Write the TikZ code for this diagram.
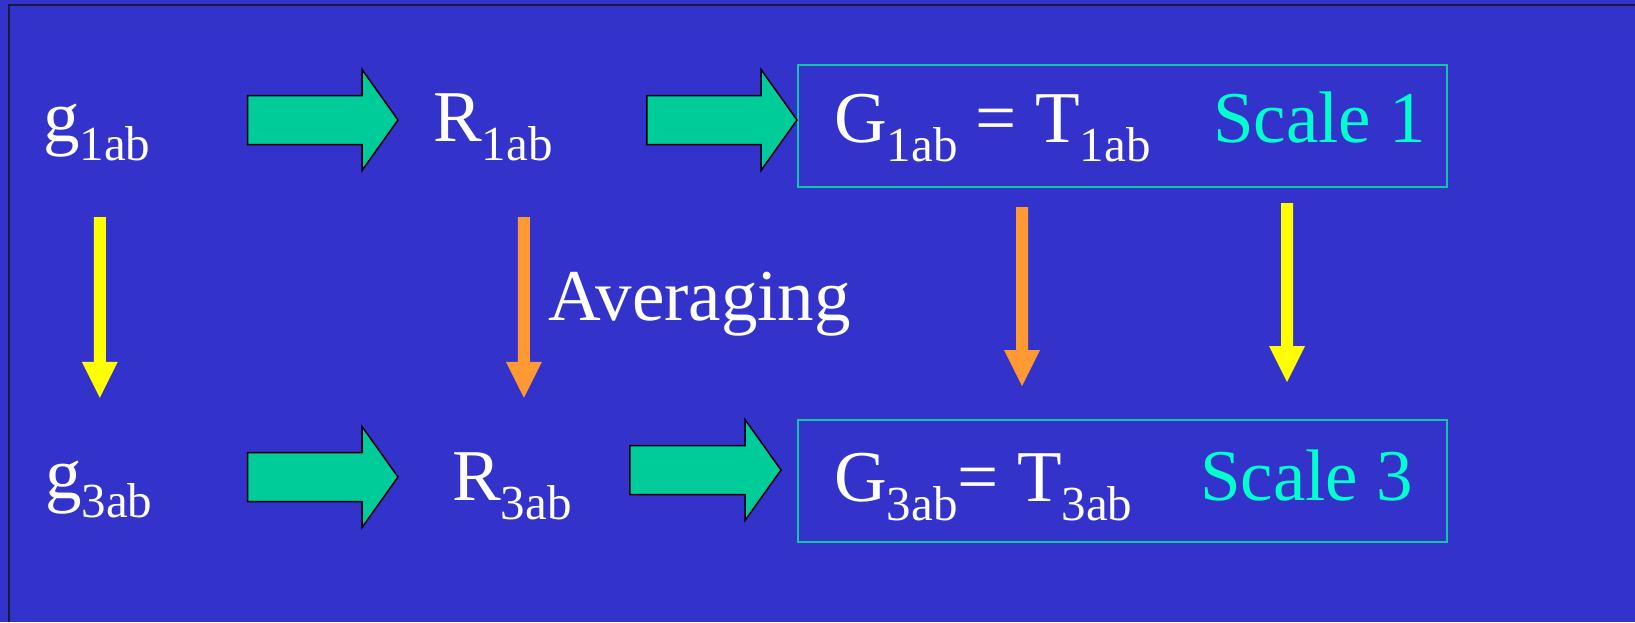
\documentclass[tikz,border=0pt]{standalone}
\usepackage{fontspec}
\setmainfont{Liberation Serif}
\newfontfamily\slidefont{Liberation Serif}
\usepackage{tikz}
\usetikzlibrary{arrows.meta, positioning, calc}
\definecolor{slblue}{HTML}{3333CC}
\definecolor{slframe}{HTML}{1A1A3A}
\definecolor{slgreen}{HTML}{00CC99}
\definecolor{slteal}{HTML}{10C8A8}
\definecolor{slcyan}{HTML}{00FFCC}
\definecolor{slorange}{HTML}{FF9933}
\definecolor{slyellow}{HTML}{FFFF00}
\newcommand{\bigfont}{\slidefont\fontsize{73}{80}\selectfont}
\newcommand{\subfont}{\fontsize{49}{52}\selectfont}
\newcommand{\idx}[2]{#1\raisebox{-19pt}{\subfont #2}}

\begin{document}
\begin{tikzpicture}[x=1pt, y=-1pt, line join=miter,
    lbl/.style={inner sep=0pt, text height=60pt, text depth=18pt, anchor=base west,
                text=white, font=\bigfont},
    scalelbl/.style={lbl, text=slcyan},
    resbox/.style={draw=slteal, line width=2pt, minimum width=649pt,
                   minimum height=122pt, inner sep=0pt},
    blockarr/.style={draw=black, line width=1.5pt, fill=slgreen,
      to path={let \p1=(\tikztostart), \p2=(\tikztotarget) in
        (\x1,\y1+24.5pt) -- (\x2-36pt,\y1+24.5pt) -- (\x2-36pt,\y1+50.5pt) -- (\x2,\y1)
        -- (\x2-36pt,\y1-50.5pt) -- (\x2-36pt,\y1-24.5pt) -- (\x1,\y1-24.5pt) -- cycle}},
    downarr/.style={fill=#1, draw=none,
      to path={let \p1=(\tikztostart), \p2=(\tikztotarget) in
        (\x1-6pt,\y1) -- (\x1-6pt,\y2+36pt) -- (\x1-18pt,\y2+36pt) -- (\x1,\y2)
        -- (\x1+18pt,\y2+36pt) -- (\x1+6pt,\y2+36pt) -- (\x1+6pt,\y1) -- cycle}}]

  \useasboundingbox (0,0) rectangle (1635,622);
  \fill[slblue] (0,0) rectangle (1635,622);
  \draw[slframe, line width=2pt] (9,622) -- (9,5) -- (1635,5);

  % scale 1 row
  \node[lbl] (g1) at (43,141) {\idx{g}{1ab}};
  \node[lbl] (R1) at (433,141) {\idx{R}{1ab}};
  \node[resbox] (G1box) at (1122.5,126) {};
  \node[lbl] (eq1) at (834,142) {\idx{G}{1ab} = \idx{T}{1ab}};
  \node[scalelbl] (sc1) at (1213,142) {Scale 1};

  % scale 3 row
  \node[lbl] (g3) at (45,498) {\idx{g}{3ab}};
  \node[lbl] (R3) at (452,500) {\idx{R}{3ab}};
  \node[resbox] (G3box) at (1122.5,481) {};
  \node[lbl] (eq2) at (834,501) {\idx{G}{3ab}= \idx{T}{3ab}};
  \node[scalelbl] (sc3) at (1200,500) {Scale 3};

  \node[lbl] (avg) at (548,320) {Averaging};

  \draw[blockarr] ([xshift=97pt]g1.east) to ([xshift=-35pt]R1.west);
  \draw[blockarr] ([xshift=94pt]R1.east) to (G1box.west);
  \draw[blockarr] ([xshift=95pt]g3.east) to ([xshift=-54pt]R3.west);
  \draw[blockarr] ([xshift=58pt,yshift=9pt]R3.east) to ([xshift=-16pt]G3box.west);

  \path[downarr=slyellow] ([xshift=3pt,yshift=-58pt]g1.south) to ([yshift=40pt]g3.north);
  \path[downarr=slorange] ([xshift=31pt,yshift=-58pt]R1.south) to ([yshift=42pt]R3.north);
  \path[downarr=slorange] ([xshift=-100.5pt,yshift=-19pt]G1box.south) to ([yshift=33pt]G3box.north);
  \path[downarr=slyellow] ([xshift=164.5pt,yshift=-15pt]G1box.south) to ([yshift=37pt]G3box.north);
\end{tikzpicture}
\end{document}
